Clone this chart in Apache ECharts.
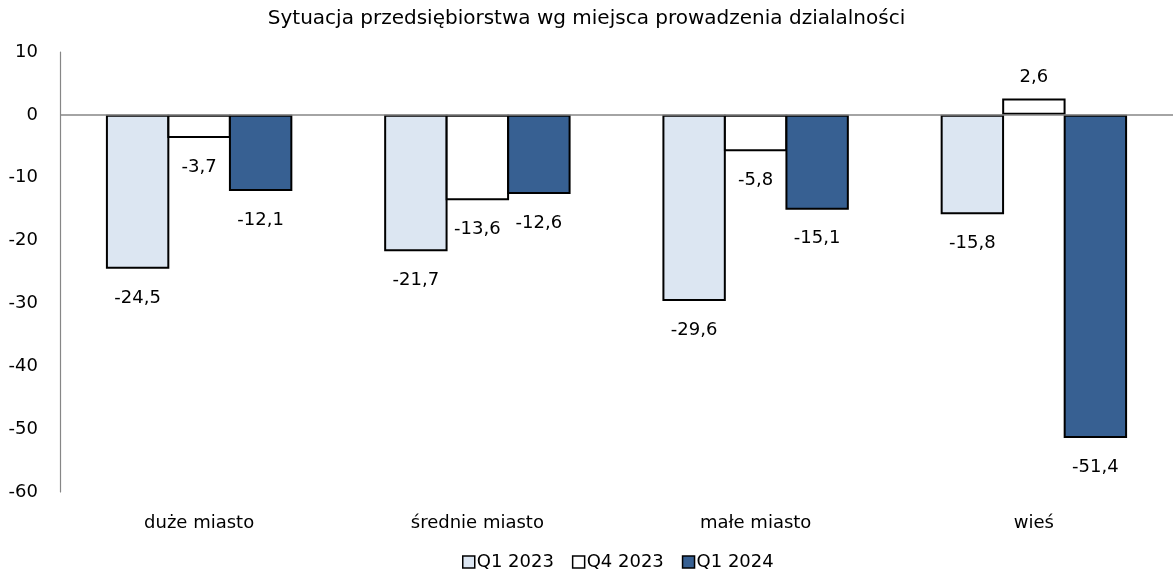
<!DOCTYPE html>
<html>
<head>
<meta charset="utf-8">
<script src="https://cdn.jsdelivr.net/npm/echarts@6/dist/echarts.min.js"></script>
<style>
  html, body { margin: 0; padding: 0; background: #fff; }
  #chart { width: 1173px; height: 579px; }
</style>
</head>
<body>
<div id="chart"></div>
<script>
// dane z wykresu
var categories = ['duże miasto', 'średnie miasto', 'małe miasto', 'wieś'];
var seriesNames = ['Q1 2023', 'Q4 2023', 'Q1 2024'];
var q1_2023 = [-24.5, -21.7, -29.6, -15.8];
var q4_2023 = [-3.7, -13.6, -5.8, 2.6];
var q1_2024 = [-12.1, -12.6, -15.1, -51.4];
var colors = ['#dce6f2', '#ffffff', '#376092'];

var FONT = 'DejaVu Sans';

function fmt(v) {
    return String(v).replace('.', ',');
}

// etykiety: ujemne pod słupkiem, dodatnie nad
function toData(list) {
    var res = [];
    for (var i = 0; i < list.length; i++) {
        var v = list[i];
        res.push({
            value: v,
            label: { position: v < 0 ? 'bottom' : 'top', distance: v < 0 ? 20 : 12 }
        });
    }
    return res;
}

function makeSeries(name, list, color) {
    return {
        name: name,
        type: 'bar',
        z: 3,
        data: toData(list),
        barGap: '-3%',
        barCategoryGap: '33%',
        itemStyle: { color: color, borderColor: '#000', borderWidth: 2 },
        label: {
            show: true,
            fontFamily: FONT,
            fontSize: 18,
            color: '#000',
            formatter: function (p) { return fmt(p.value); }
        },
        emphasis: { disabled: true },
        animation: false
    };
}

var myChart = echarts.init(document.getElementById('chart'));
myChart.setOption({
    backgroundColor: '#fff',
    animation: false,
    title: {
        text: 'Sytuacja przedsiębiorstwa wg miejsca prowadzenia dzialalności',
        left: 'center',
        top: 4,
        textStyle: { fontFamily: FONT, fontSize: 20, fontWeight: 'normal', color: '#000' }
    },
    legend: {
        data: seriesNames,
        bottom: 3,
        left: 457,
        icon: 'rect',
        itemWidth: 12,
        itemHeight: 12,
        itemGap: 18,
        itemStyle: { borderWidth: 1.5 },
        textStyle: { fontFamily: FONT, fontSize: 18, color: '#000', padding: [0, 0, 0, -3] }
    },
    grid: { left: 60, right: -5, top: 52, bottom: 87 },
    xAxis: {
        type: 'category',
        data: categories,
        axisLine: { show: false },
        axisTick: { show: false },
        axisLabel: { fontFamily: FONT, fontSize: 18, color: '#000', margin: 22 }
    },
    yAxis: {
        type: 'value',
        min: -60,
        max: 10,
        interval: 10,
        axisLine: { show: true, lineStyle: { color: '#868686', width: 1.2 } },
        axisTick: { show: false },
        splitLine: { show: false },
        axisLabel: { fontFamily: FONT, fontSize: 18, color: '#000', margin: 22 }
    },
    series: [
        makeSeries(seriesNames[0], q1_2023, colors[0]),
        makeSeries(seriesNames[1], q4_2023, colors[1]),
        makeSeries(seriesNames[2], q1_2024, colors[2]),
        {
            // linia zera pod słupkami
            name: 'zero',
            type: 'line',
            z: 1,
            data: [],
            silent: true,
            markLine: {
                silent: true,
                symbol: 'none',
                label: { show: false },
                lineStyle: { color: '#868686', width: 1.5, type: 'solid' },
                data: [{ yAxis: 0 }],
                animation: false
            }
        }
    ]
});
</script>
</body>
</html>
